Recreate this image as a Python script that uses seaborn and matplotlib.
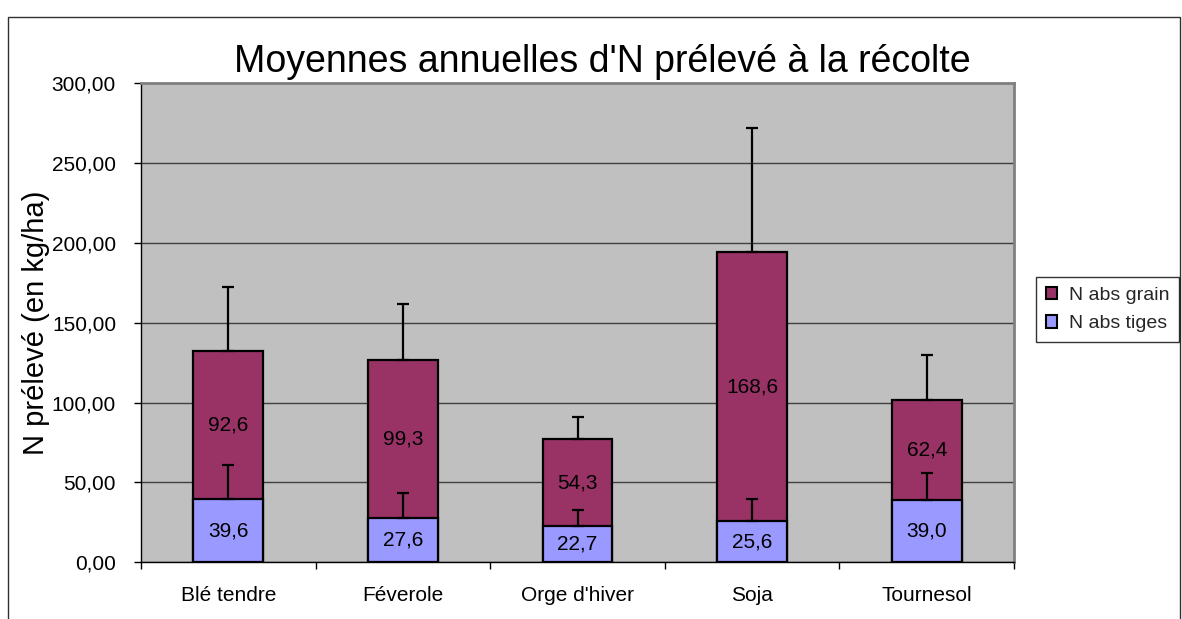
import numpy as np
import pandas as pd
import matplotlib
matplotlib.use("Agg")
import matplotlib.pyplot as plt
import seaborn as sns
from matplotlib.patches import Patch, Rectangle
from matplotlib.ticker import FixedLocator, FuncFormatter

# ---- data ----
cultures = ["Blé tendre", "Féverole", "Orge d'hiver", "Soja", "Tournesol"]
n_tiges = [39.6, 27.6, 22.7, 25.6, 39.0]
n_grain = [92.6, 99.3, 54.3, 168.6, 62.4]
err_tiges = [21.4, 15.9, 9.8, 14.0, 17.0]
err_total = [40.1, 35.1, 14.0, 77.8, 28.4]
series_names = ["N abs grain", "N abs tiges"]
series_colors = ["#993366", "#9999FF"]
title = "Moyennes annuelles d'N prélevé à la récolte"
ylabel = "N prélevé (en kg/ha)"
yticks = [0, 50, 100, 150, 200, 250, 300]

sns.set_theme(style="white")
plt.rcParams["font.family"] = ["Liberation Sans", "DejaVu Sans"]

df = pd.DataFrame({"culture": cultures, "tiges": n_tiges, "grain": n_grain})
df["total"] = df["tiges"] + df["grain"]

W, H = 1182, 619
fig = plt.figure(figsize=(W / 100, H / 100), dpi=100)
fig.patch.set_facecolor("white")

# outer chart border
fig.add_artist(Rectangle((8 / W, -0.02), (1180 - 8) / W, 1 - 17 / H + 0.02,
                         transform=fig.transFigure, fill=False,
                         edgecolor="#303030", lw=1.0))

left, right, top, bottom = 141, 1014, 83.3, 562.3
ax = fig.add_axes([left / W, 1 - bottom / H, (right - left) / W, (bottom - top) / H])
ax.set_facecolor("#C0C0C0")

bar_w = 0.40
sns.barplot(data=df, x="culture", y="total", color=series_colors[0], saturation=1,
            width=bar_w, edgecolor="black", linewidth=1.6, errorbar=None, ax=ax, zorder=2)
sns.barplot(data=df, x="culture", y="tiges", color=series_colors[1], saturation=1,
            width=bar_w, edgecolor="black", linewidth=1.6, errorbar=None, ax=ax, zorder=3)

x = np.arange(len(cultures))
ax.errorbar(x, df["tiges"], yerr=[np.zeros(len(x)), err_tiges], fmt="none",
            ecolor="black", elinewidth=1.6, capsize=4.2, capthick=1.6, zorder=4)
ax.errorbar(x, df["total"], yerr=[np.zeros(len(x)), err_total], fmt="none",
            ecolor="black", elinewidth=1.6, capsize=4.2, capthick=1.6, zorder=4)

def fr(v, d=1):
    return f"{v:.{d}f}".replace(".", ",")

for i in range(len(cultures)):
    ax.text(i, n_tiges[i] / 2, fr(n_tiges[i]), ha="center", va="center",
            fontsize=15, color="black", zorder=5)
    ax.text(i, n_tiges[i] + n_grain[i] / 2, fr(n_grain[i]), ha="center", va="center",
            fontsize=15, color="black", zorder=5)

ax.set_ylim(0, 300)
ax.set_xlim(-0.5, len(cultures) - 0.5)
ax.set_axisbelow(True)
ax.yaxis.grid(True, color="#404040", lw=1.0)
ax.xaxis.grid(False)

ax.yaxis.set_major_locator(FixedLocator(yticks))
ax.yaxis.set_major_formatter(FuncFormatter(lambda v, p: fr(v, 2)))
ax.tick_params(axis="y", left=True, direction="out", length=5, width=1,
               color="black", pad=13, labelsize=15, labelcolor="black")

ax.set_xticks(x)
ax.set_xticklabels(cultures)
ax.set_xticks(np.arange(-0.5, len(cultures), 1.0), minor=True)
ax.tick_params(axis="x", which="major", bottom=False, length=0, pad=17,
               labelsize=15, labelcolor="black")
ax.tick_params(axis="x", which="minor", bottom=True, direction="out", length=5,
               width=1, color="black")

ax.set_xlabel("")
ax.set_ylabel(ylabel, fontsize=21, color="black")
ax.yaxis.set_label_coords((50 - left) / (right - left), 0.5)

for s in ["left", "bottom"]:
    ax.spines[s].set_color("black")
    ax.spines[s].set_linewidth(1.0)
for s in ["top", "right"]:
    ax.spines[s].set_color("#808080")
    ax.spines[s].set_linewidth(2.0)

fig.text(602 / W, 1 - 72 / H, title, ha="center", va="baseline", fontsize=27, color="black")

handles = [Patch(facecolor=c, edgecolor="black", lw=1.5) for c in series_colors]
leg = fig.legend(handles, series_names, loc="upper left",
                 bbox_to_anchor=(1036 / W, 1 - 277 / H), fontsize=14,
                 frameon=True, fancybox=False, handlelength=0.6, handleheight=0.6,
                 handletextpad=0.6, borderpad=0.5, labelspacing=0.6, borderaxespad=0)
leg.get_frame().set_edgecolor("black")
leg.get_frame().set_linewidth(1.0)
leg.get_frame().set_facecolor("white")

fig.savefig("out.png", dpi=100)
